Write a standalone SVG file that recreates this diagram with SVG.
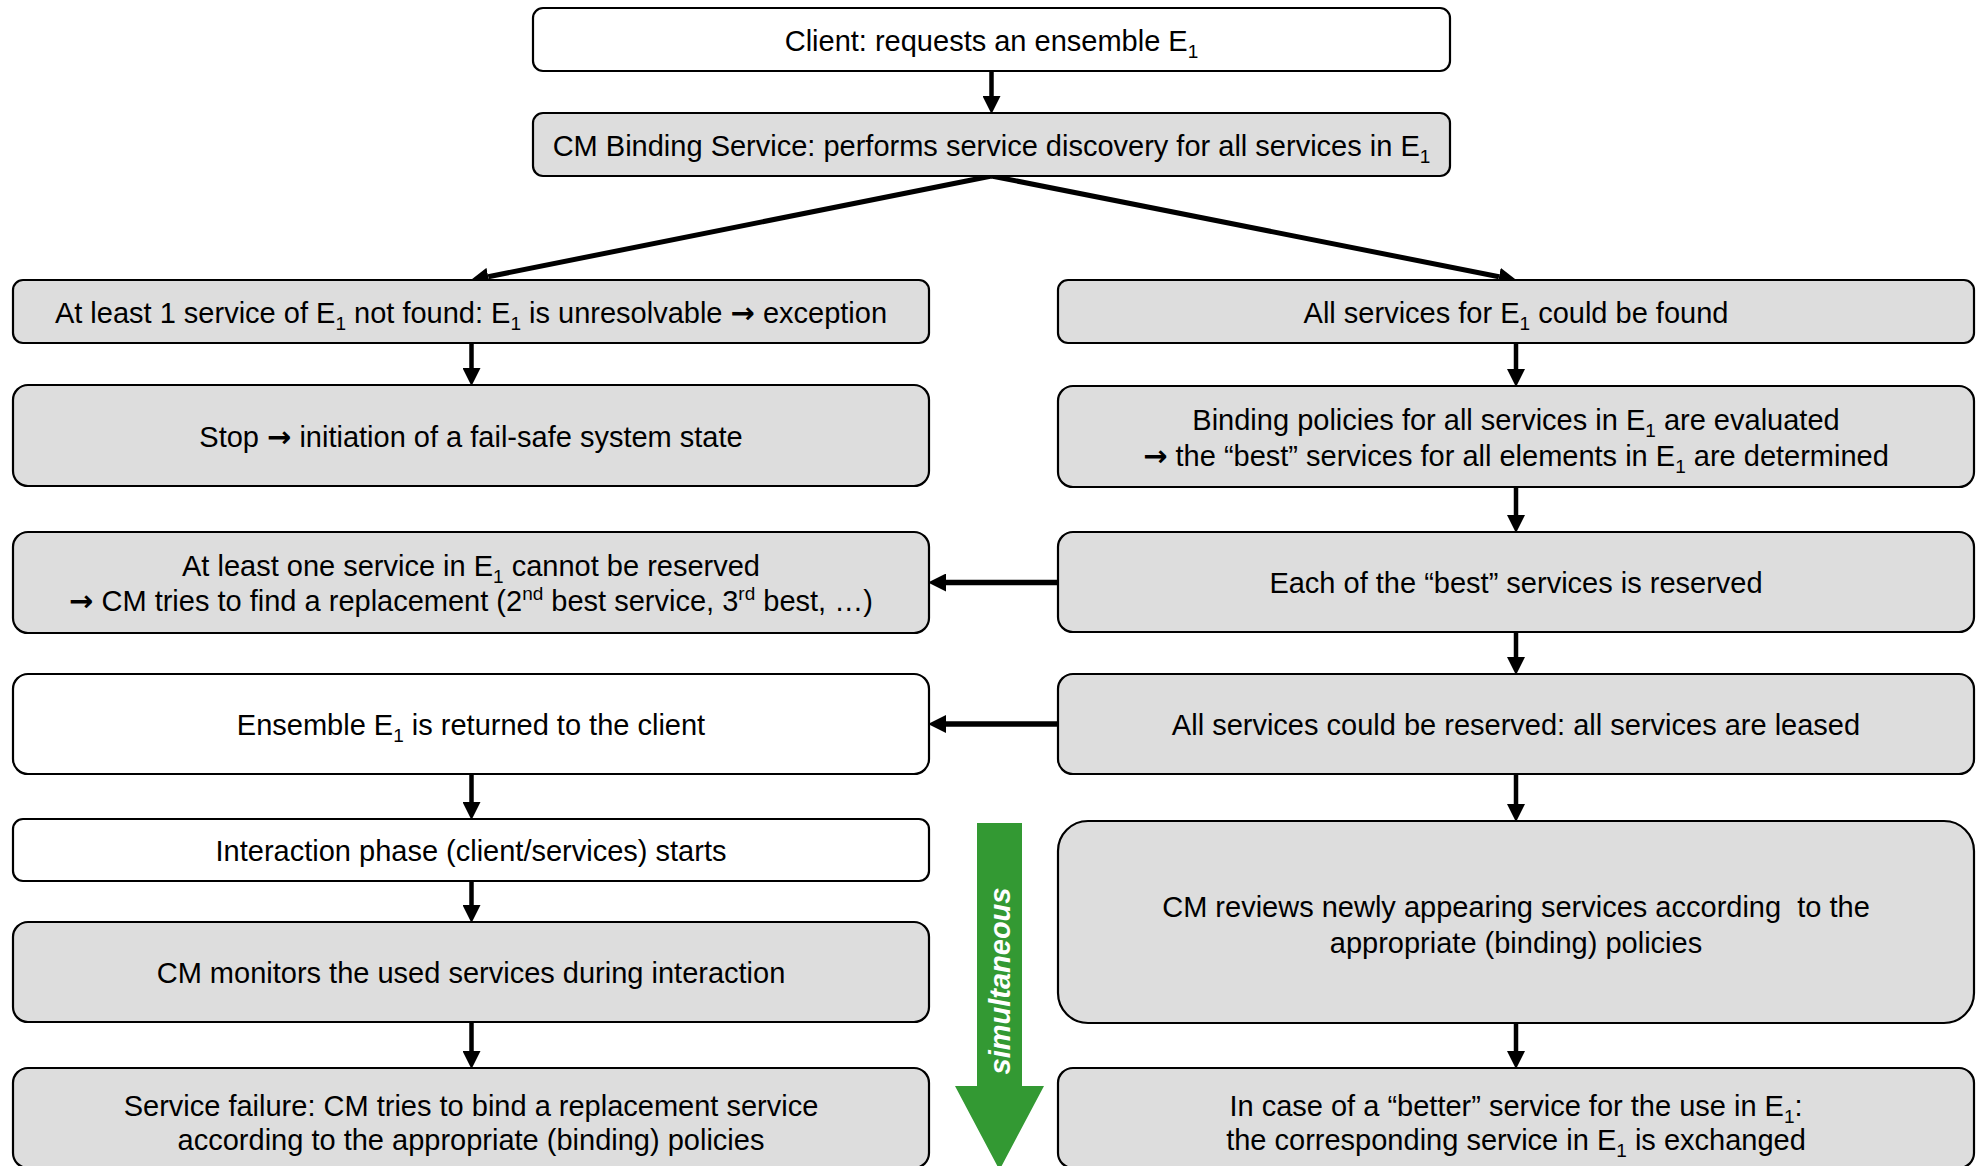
<svg xmlns="http://www.w3.org/2000/svg" width="1982" height="1166" viewBox="0 0 1982 1166">
  <style>
    .box { stroke: #000; stroke-width: 2.2; }
    .gray { fill: #dddddd; }
    .white { fill: #ffffff; }
    .lbl { font-family: "Liberation Sans", Arial, sans-serif; font-size: 29px; fill: #000; text-anchor: middle; }
    .sub { font-size: 19px; }
    .arr { font-family: "DejaVu Sans", sans-serif; font-weight: bold; }
    .conn { stroke: #000; fill: none; }
    .v { stroke-width: 4.5; }
    .h { stroke-width: 5.5; }
    .d { stroke-width: 5; }
    .sim { font-family: "Liberation Sans", Arial, sans-serif; font-size: 29px; font-weight: bold; font-style: italic; fill: #fff; text-anchor: middle; }
  </style>
  <defs>
    <marker id="head" markerUnits="userSpaceOnUse" markerWidth="18" markerHeight="18" refX="0" refY="8.5" orient="auto" viewBox="0 0 17 17">
      <path d="M0,0 L17,8.5 L0,17 Z" fill="#000"/>
    </marker>
  </defs>

  <rect width="1982" height="1166" fill="#fff"/>

  <!-- connectors: each line ends at the base of its arrowhead -->
  <g id="connectors">
    <line class="conn v" x1="991.5" y1="71" x2="991.5" y2="96" marker-end="url(#head)"/>
    <line class="conn d" x1="991.5" y1="176" x2="488.2" y2="276.7" marker-end="url(#head)"/>
    <line class="conn d" x1="991.5" y1="176" x2="1499" y2="276.7" marker-end="url(#head)"/>
    <line class="conn v" x1="471.5" y1="343" x2="471.5" y2="368" marker-end="url(#head)"/>
    <line class="conn v" x1="1516" y1="343" x2="1516" y2="369" marker-end="url(#head)"/>
    <line class="conn v" x1="1516" y1="487" x2="1516" y2="515" marker-end="url(#head)"/>
    <line class="conn v" x1="1516" y1="632" x2="1516" y2="657" marker-end="url(#head)"/>
    <line class="conn v" x1="1516" y1="774" x2="1516" y2="804" marker-end="url(#head)"/>
    <line class="conn v" x1="1516" y1="1023" x2="1516" y2="1051" marker-end="url(#head)"/>
    <line class="conn h" x1="1058" y1="582.5" x2="946" y2="582.5" marker-end="url(#head)"/>
    <line class="conn h" x1="1058" y1="724" x2="946" y2="724" marker-end="url(#head)"/>
    <line class="conn v" x1="471.5" y1="774" x2="471.5" y2="802" marker-end="url(#head)"/>
    <line class="conn v" x1="471.5" y1="881" x2="471.5" y2="905" marker-end="url(#head)"/>
    <line class="conn v" x1="471.5" y1="1022" x2="471.5" y2="1051" marker-end="url(#head)"/>
  </g>

  <!-- green "simultaneous" arrow between the two columns -->
  <g id="simultaneous">
    <path d="M977,823 L1022,823 L1022,1086 L1044,1086 L999.5,1170 L955,1086 L977,1086 Z" fill="#339933"/>
    <text class="sim" transform="translate(1010,981) rotate(-90)" x="0" y="0">simultaneous</text>
  </g>

  <g id="client">
    <rect class="box white" x="533" y="8" width="917" height="63" rx="10"/>
    <text class="lbl" x="991.5" y="51">Client: requests an ensemble E<tspan class="sub" dy="7">1</tspan></text>
  </g>

  <g id="binding-service">
    <rect class="box gray" x="533" y="113" width="917" height="63" rx="10"/>
    <text class="lbl" x="991.5" y="156">CM Binding Service: performs service discovery for all services in E<tspan class="sub" dy="7">1</tspan></text>
  </g>

  <g id="not-found">
    <rect class="box gray" x="13" y="280" width="916" height="63" rx="10"/>
    <text class="lbl" x="471" y="322.5">At least 1 service of E<tspan class="sub" dy="7">1</tspan><tspan dy="-7"> not found: E</tspan><tspan class="sub" dy="7">1</tspan><tspan dy="-7"> is unresolvable </tspan><tspan class="arr">→</tspan> exception</text>
  </g>

  <g id="stop">
    <rect class="box gray" x="13" y="385" width="916" height="101" rx="15"/>
    <text class="lbl" x="471" y="446.5">Stop <tspan class="arr">→</tspan> initiation of a fail-safe system state</text>
  </g>

  <g id="not-reserved">
    <rect class="box gray" x="13" y="532" width="916" height="101" rx="15"/>
    <text class="lbl" x="471" y="576">At least one service in E<tspan class="sub" dy="7">1</tspan><tspan dy="-7"> cannot be reserved</tspan></text>
    <text class="lbl" x="471" y="611"><tspan class="arr">→</tspan> CM tries to find a replacement (2<tspan class="sub" dy="-11">nd</tspan><tspan dy="11"> best service, 3</tspan><tspan class="sub" dy="-11">rd</tspan><tspan dy="11"> best, …)</tspan></text>
  </g>

  <g id="returned">
    <rect class="box white" x="13" y="674" width="916" height="100" rx="15"/>
    <text class="lbl" x="471" y="735">Ensemble E<tspan class="sub" dy="7">1</tspan><tspan dy="-7"> is returned to the client</tspan></text>
  </g>

  <g id="interaction">
    <rect class="box white" x="13" y="819" width="916" height="62" rx="10"/>
    <text class="lbl" x="471" y="861">Interaction phase (client/services) starts</text>
  </g>

  <g id="monitors">
    <rect class="box gray" x="13" y="922" width="916" height="100" rx="15"/>
    <text class="lbl" x="471" y="983">CM monitors the used services during interaction</text>
  </g>

  <g id="failure">
    <rect class="box gray" x="13" y="1068" width="916" height="100" rx="15"/>
    <text class="lbl" x="471" y="1116">Service failure: CM tries to bind a replacement service</text>
    <text class="lbl" x="471" y="1150">according to the appropriate (binding) policies</text>
  </g>

  <g id="all-found">
    <rect class="box gray" x="1058" y="280" width="916" height="63" rx="10"/>
    <text class="lbl" x="1516" y="322.5">All services for E<tspan class="sub" dy="7">1</tspan><tspan dy="-7"> could be found</tspan></text>
  </g>

  <g id="policies">
    <rect class="box gray" x="1058" y="386" width="916" height="101" rx="15"/>
    <text class="lbl" x="1516" y="430">Binding policies for all services in E<tspan class="sub" dy="7">1</tspan><tspan dy="-7"> are evaluated</tspan></text>
    <text class="lbl" x="1516" y="466"><tspan class="arr">→</tspan> the “best” services for all elements in E<tspan class="sub" dy="7">1</tspan><tspan dy="-7"> are determined</tspan></text>
  </g>

  <g id="reserve">
    <rect class="box gray" x="1058" y="532" width="916" height="100" rx="15"/>
    <text class="lbl" x="1516" y="593">Each of the “best” services is reserved</text>
  </g>

  <g id="leased">
    <rect class="box gray" x="1058" y="674" width="916" height="100" rx="15"/>
    <text class="lbl" x="1516" y="735">All services could be reserved: all services are leased</text>
  </g>

  <g id="reviews">
    <rect class="box gray" x="1058" y="821" width="916" height="202" rx="30"/>
    <text class="lbl" x="1516" y="917" xml:space="preserve">CM reviews newly appearing services according  to the</text>
    <text class="lbl" x="1516" y="953">appropriate (binding) policies</text>
  </g>

  <g id="exchange">
    <rect class="box gray" x="1058" y="1068" width="916" height="100" rx="15"/>
    <text class="lbl" x="1516" y="1116">In case of a “better” service for the use in E<tspan class="sub" dy="7">1</tspan><tspan dy="-7">:</tspan></text>
    <text class="lbl" x="1516" y="1150">the corresponding service in E<tspan class="sub" dy="7">1</tspan><tspan dy="-7"> is exchanged</tspan></text>
  </g>
</svg>
